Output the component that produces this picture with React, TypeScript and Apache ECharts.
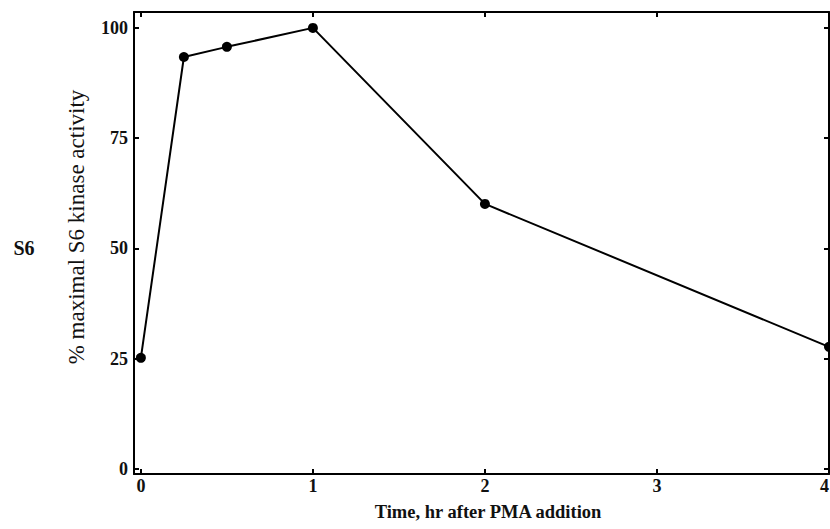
import React, { useEffect, useRef } from "react";
import * as echarts from "echarts";

const timeHr = [0, 0.25, 0.5, 1, 2, 4];
const activityPct = [25.2, 93.4, 95.7, 100, 60.1, 27.7];
const xTicks = [0, 1, 2, 3, 4];
const yTicks = [0, 25, 50, 75, 100];
const xTitle = "Time, hr after PMA addition";
const yTitle = "% maximal S6 kinase activity";
const sideLabel = "S6";

const FONT = "'Liberation Serif', 'Times New Roman', 'DejaVu Serif', serif";
const INK = "#111";

export default function App() {
  const ref = useRef<HTMLDivElement>(null);
  useEffect(() => {
    if (!ref.current) return;
    const chart = echarts.init(ref.current, undefined, { renderer: "svg" });
    const xMin = -0.04;
    const xMax = 4;
    const yMin = -1.13;
    const yMax = 103.6;
    const lineStyle = { color: "#000", width: 2 };
    const tickStyle = { color: "#000", width: 2 };
    const baseX = {
      type: "value" as const,
      min: xMin,
      max: xMax,
      splitLine: { show: false },
      axisLine: { show: true, onZero: false, lineStyle },
      axisTick: { show: true, inside: true, length: 5, lineStyle: tickStyle, customValues: xTicks },
    };
    const baseY = {
      type: "value" as const,
      min: yMin,
      max: yMax,
      splitLine: { show: false },
      axisLine: { show: true, onZero: false, lineStyle },
      axisTick: { show: true, inside: true, length: 5, lineStyle: tickStyle, customValues: yTicks },
    };
    chart.setOption({
      animation: false,
      backgroundColor: "#fff",
      grid: {
        left: 134,
        right: 1,
        top: 12,
        bottom: 55,
        containLabel: false,
        outerBoundsMode: "none",
      },
      xAxis: [
        {
          ...baseX,
          position: "bottom",
          axisLabel: {
            show: true,
            customValues: xTicks,
            margin: 3,
            alignMaxLabel: "right",
            color: INK,
            fontFamily: FONT,
            fontSize: 18,
            fontWeight: "bold",
            formatter: (v: number) => String(v),
          },
        },
        { ...baseX, position: "top", axisLabel: { show: false } },
      ],
      yAxis: [
        {
          ...baseY,
          position: "left",
          axisLabel: {
            show: true,
            customValues: yTicks,
            margin: 6,
            color: INK,
            fontFamily: FONT,
            fontSize: 18,
            fontWeight: "bold",
            formatter: (v: number) => String(v),
          },
        },
        { ...baseY, position: "right", axisLabel: { show: false } },
      ],
      series: [
        {
          type: "line",
          xAxisIndex: 0,
          yAxisIndex: 0,
          data: timeHr.map((t, i) => [t, activityPct[i]]),
          symbol: "circle",
          symbolSize: 10,
          itemStyle: { color: "#000" },
          lineStyle: { color: "#000", width: 2 },
          clip: false,
        },
      ],
      graphic: [
        {
          type: "text",
          x: 488,
          y: 512,
          style: {
            text: xTitle,
            align: "center",
            verticalAlign: "middle",
            fill: INK,
            fontFamily: FONT,
            fontSize: 18.5,
            fontWeight: "bold",
          },
        },
        {
          type: "text",
          x: 76,
          y: 227,
          rotation: Math.PI / 2,
          style: {
            text: yTitle,
            align: "center",
            verticalAlign: "middle",
            fill: INK,
            fontFamily: FONT,
            fontSize: 23,
            fontWeight: "normal",
          },
        },
        {
          type: "text",
          x: 24,
          y: 248,
          style: {
            text: sideLabel,
            align: "center",
            verticalAlign: "middle",
            fill: INK,
            fontFamily: FONT,
            fontSize: 20,
            fontWeight: "bold",
          },
        },
      ],
    });
    return () => chart.dispose();
  }, []);
  return (
    <div
      ref={ref}
      style={{ position: "absolute", left: 0, top: 0, width: 830, height: 529 }}
    />
  );
}
